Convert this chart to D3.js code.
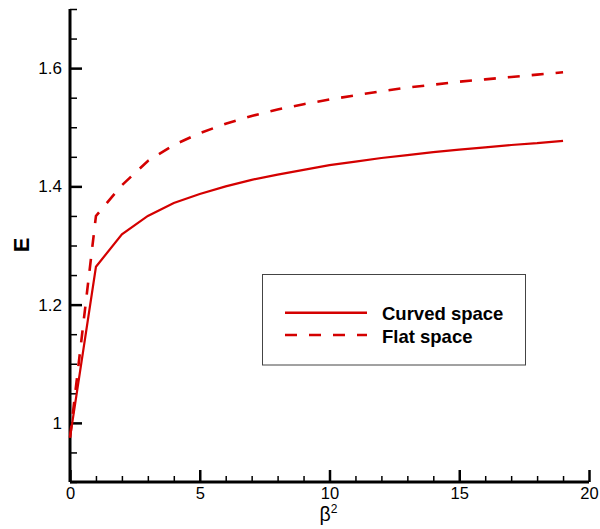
<!DOCTYPE html>
<html><head><meta charset="utf-8">
<script src="https://cdn.jsdelivr.net/npm/d3@7"></script>
<style>body{margin:0;background:#fff}svg{display:block;font-family:"Liberation Sans",Arial,sans-serif}</style>
</head><body><svg id="c" width="600" height="529"></svg>
<script>
const beta2 = [0,1,2,3,4,5,6,7,8,9,10,11,12,13,14,15,16,17,18,19];
const curved = [0.975,1.264,1.319,1.350,1.372,1.387,1.400,1.411,1.420,1.428,1.436,1.442,1.448,1.453,1.458,1.462,1.466,1.470,1.473,1.477];
const flat = [0.975,1.350,1.402,1.443,1.470,1.490,1.506,1.519,1.530,1.539,1.547,1.554,1.561,1.567,1.572,1.577,1.581,1.585,1.589,1.593];
const seriesNames = ["Curved space","Flat space"];
const xMajor = [0,5,10,15,20];
const yMajor = [1.0,1.2,1.4,1.6];

const svg = d3.select("#c");
const x = d3.scaleLinear().domain([0,20]).range([70,589]);
const y = d3.scaleLinear().domain([0.9,1.7]).range([482,9]);
const red = "#d40000";

// minor ticks
const xMinor = d3.range(0,20.01,1).filter(v=>v%5!==0);
const yMinor = d3.range(0.9,1.701,0.05).map(v=>+v.toFixed(2)).filter(v=>Math.abs(v*5-Math.round(v*5))>1e-6);

const xAxisMinor = d3.axisBottom(x).tickValues(xMinor).tickSize(-6).tickFormat("");
const xAxisMajor = d3.axisBottom(x).tickValues(xMajor).tickSize(-12).tickPadding(19).tickFormat(d=>d);
const yAxisMinor = d3.axisLeft(y).tickValues(yMinor).tickSize(-7).tickFormat("");
const yAxisMajor = d3.axisLeft(y).tickValues(yMajor).tickSize(-12).tickPadding(20).tickFormat(d=>d===1?"1":d3.format(".1f")(d));

const gxm = svg.append("g").attr("transform","translate(0,482)").call(xAxisMinor);
gxm.selectAll("line").attr("stroke","#000").attr("stroke-width",1.5);
gxm.select(".domain").remove();
const gym = svg.append("g").attr("transform","translate(70,0)").call(yAxisMinor);
gym.selectAll("line").attr("stroke","#000").attr("stroke-width",1.5);
gym.select(".domain").remove();

const gx = svg.append("g").attr("transform","translate(0,482)").call(xAxisMajor);
gx.select(".domain").attr("stroke","#000").attr("stroke-width",3).attr("d","M70,0H589");
gx.selectAll(".tick line").attr("stroke","#000").attr("stroke-width",2.5);
gx.selectAll(".tick text").attr("font-size",16.5).attr("fill","#000").attr("font-family","Liberation Sans, Arial, sans-serif").attr("dy","0.71em").attr("y",5);

const gy = svg.append("g").attr("transform","translate(70,0)").call(yAxisMajor);
gy.select(".domain").attr("stroke","#000").attr("stroke-width",3).attr("d","M0,9V482");
gy.selectAll(".tick line").attr("stroke","#000").attr("stroke-width",2.5);
gy.selectAll(".tick text").attr("font-size",17).attr("fill","#000").attr("font-family","Liberation Sans, Arial, sans-serif").attr("x",-8);

// lines
const line = d3.line().x((d,i)=>x(beta2[i])).y(d=>y(d));
svg.append("path").datum(curved).attr("d",line).attr("fill","none").attr("stroke",red).attr("stroke-width",2.2);
svg.append("path").datum(flat).attr("d",line).attr("fill","none").attr("stroke",red).attr("stroke-width",2.6).attr("stroke-dasharray","12,12");

// axis titles
svg.append("text").attr("transform","translate(29,245) rotate(-90)").attr("text-anchor","middle")
  .attr("font-size",22).attr("font-weight","bold").text("E");
const xt = svg.append("text").attr("x",x(10)-1).attr("y",521).attr("text-anchor","middle").attr("font-size",19.5);
xt.append("tspan").text("β");
xt.append("tspan").attr("font-size",12).attr("dy",-8).text("2");

// legend
const lg = svg.append("g");
lg.append("rect").attr("x",262.5).attr("y",274.5).attr("width",263).attr("height",90.5).attr("fill","#fff").attr("stroke","#444").attr("stroke-width",1);
const legY = [312.7,335];
seriesNames.forEach((n,i)=>{
  lg.append("line").attr("x1",285).attr("x2",367).attr("y1",legY[i]).attr("y2",legY[i])
    .attr("stroke",red).attr("stroke-width",2.4).attr("stroke-dasharray",i===1?"12,12":null);
  lg.append("text").attr("x",382).attr("y",legY[i]+7.5).attr("font-size",18.5).attr("font-weight","bold").text(n);
});
</script></body></html>
